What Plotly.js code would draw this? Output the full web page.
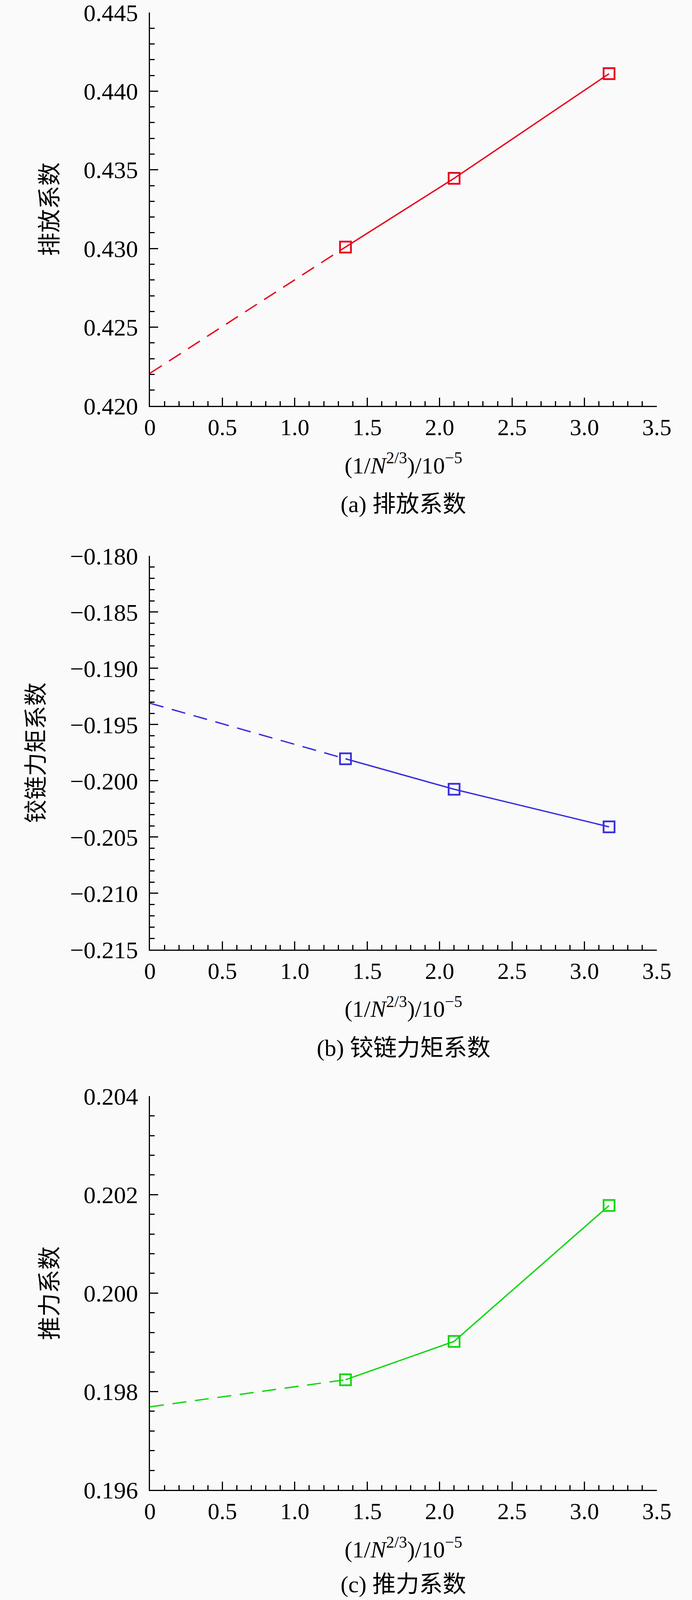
<!DOCTYPE html>
<html>
<head>
<meta charset="utf-8">
<script src="https://cdn.plot.ly/plotly-3.0.1.min.js"></script>
<style>
  html, body { margin: 0; padding: 0; background: #fafafa; overflow: hidden; }
</style>
</head>
<body>
<div id="plot"></div>
<script>

// Grid measure on the x axis
let grid_x = [1.35, 2.10, 3.17];

// Computed coefficients for each grid
let discharge_coef = [0.43009, 0.43446, 0.44111];
let hinge_coef = [-0.19804, -0.20075, -0.20409];
let thrust_coef = [0.19824, 0.19902, 0.20178];

// Extrapolated values at 1/N^(2/3) = 0
let discharge_zero = 0.42207;
let hinge_zero = -0.19310;
let thrust_zero = 0.19769;

// Tick labels
let x_tickvals = [0, 0.5, 1.0, 1.5, 2.0, 2.5, 3.0, 3.5];
let x_ticktext = ["0", "0.5", "1.0", "1.5", "2.0", "2.5", "3.0", "3.5"];

// Panel labels
let y_titles = ["排放系数", "铰链力矩系数", "推力系数"];
let captions = ["(a) 排放系数", "(b) 铰链力矩系数", "(c) 推力系数"];
let x_title = "(1/<i>N</i><sup>2/3</sup>)/10<sup>\u22125</sup>";

let font_family = "'Liberation Serif', 'Times New Roman', 'Noto Sans CJK SC', serif";

// Reference page size; the window may be shorter, so positions are kept as fractions
let W_ref = 1772;
let H_ref = 4364;
let W = window.innerWidth || W_ref;
let H = Math.min(window.innerHeight || H_ref, H_ref);

let plotdiv = document.getElementById("plot");
plotdiv.style.width = W + "px";
plotdiv.style.height = H + "px";

// Pixel positions of each panel on the reference (top, bottom)
let panel_px = [[34, 1107], [1516, 2590], [2990, 4064]];
let x_px = [384, 1682];
let caption_gap = 269;

let panels = [
  {vals: discharge_coef, zero: discharge_zero, col: "#e8001c", range: [0.420, 0.445], dtick: 0.005, minor: 0.001},
  {vals: hinge_coef, zero: hinge_zero, col: "#3a2ee0", range: [-0.215, -0.180], dtick: 0.005, minor: 0.001},
  {vals: thrust_coef, zero: thrust_zero, col: "#12d612", range: [0.196, 0.204], dtick: 0.002, minor: 0.0004}
];

let data = [];
let annotations = [];
let layout = {
  width: W,
  height: H,
  margin: {l: 0, r: 0, t: 0, b: 0},
  paper_bgcolor: "#fafafa",
  plot_bgcolor: "#fafafa",
  showlegend: false,
  font: {family: font_family, color: "#000000", size: 60}
};

panels.map((p, i) => {

  let n = i + 1;
  let xname = n == 1 ? "xaxis" : "xaxis" + n;
  let yname = n == 1 ? "yaxis" : "yaxis" + n;
  let xref = n == 1 ? "x" : "x" + n;
  let yref = n == 1 ? "y" : "y" + n;

  let ydom = [1 - panel_px[i][1] / H_ref, 1 - panel_px[i][0] / H_ref];
  let xdom = [x_px[0] / W_ref, x_px[1] / W_ref];

  // Dashed extrapolation to zero
  data.push({
    x: [0, grid_x[0]],
    y: [p.zero, p.vals[0]],
    xaxis: xref,
    yaxis: yref,
    mode: "lines",
    type: "scatter",
    line: {color: p.col, width: 3.5, dash: "36px,22px"},
    hoverinfo: "skip"
  });

  // Computed values
  data.push({
    x: grid_x,
    y: p.vals,
    xaxis: xref,
    yaxis: yref,
    mode: "lines+markers",
    type: "scatter",
    cliponaxis: false,
    line: {color: p.col, width: 3.5},
    marker: {
      symbol: "square-open",
      size: 28,
      color: p.col,
      line: {color: p.col, width: 4.5}
    }
  });

  layout[xname] = {
    domain: xdom,
    anchor: yref,
    range: [0, 3.5],
    tickmode: "array",
    tickvals: x_tickvals,
    ticktext: x_ticktext,
    ticks: "inside",
    ticklen: 21,
    tickwidth: 3,
    tickcolor: "#000000",
    ticklabelstandoff: 0,
    ticklabeloverflow: "allow",
    tickfont: {family: font_family, size: 60},
    minor: {dtick: 0.1, ticks: "inside", ticklen: 12, tickwidth: 3, tickcolor: "#000000"},
    showline: true,
    linecolor: "#000000",
    linewidth: 3,
    showgrid: false,
    zeroline: false,
    fixedrange: true,
    title: {
      text: x_title,
      standoff: 44,
      font: {family: font_family, size: 60}
    }
  };

  layout[yname] = {
    domain: ydom,
    anchor: xref,
    range: p.range,
    tickmode: "linear",
    dtick: p.dtick,
    tick0: p.range[0],
    tickformat: ".3f",
    ticks: "inside",
    ticklen: 21,
    tickwidth: 3,
    tickcolor: "#000000",
    ticklabelstandoff: 15,
    ticklabeloverflow: "allow",
    tickfont: {family: font_family, size: 62},
    minor: {dtick: p.minor, ticks: "inside", ticklen: 12, tickwidth: 3, tickcolor: "#000000"},
    showline: true,
    linecolor: "#000000",
    linewidth: 3,
    showgrid: false,
    zeroline: false,
    fixedrange: true,
    title: {
      text: y_titles[i],
      standoff: 47,
      font: {family: font_family, size: 60}
    }
  };

  // Caption under each panel, kept inside the page
  let cap_y = 1 - (panel_px[i][1] + caption_gap) / H_ref;
  cap_y = Math.max(cap_y, 40 / H);
  annotations.push({
    xref: "paper",
    yref: "paper",
    x: (xdom[0] + xdom[1]) / 2,
    y: cap_y,
    xanchor: "center",
    yanchor: "middle",
    text: captions[i],
    showarrow: false,
    font: {family: font_family, size: 60}
  });

});

layout.annotations = annotations;

Plotly.newPlot(plotdiv, data, layout, {displayModeBar: false, staticPlot: true});

</script>
</body>
</html>
